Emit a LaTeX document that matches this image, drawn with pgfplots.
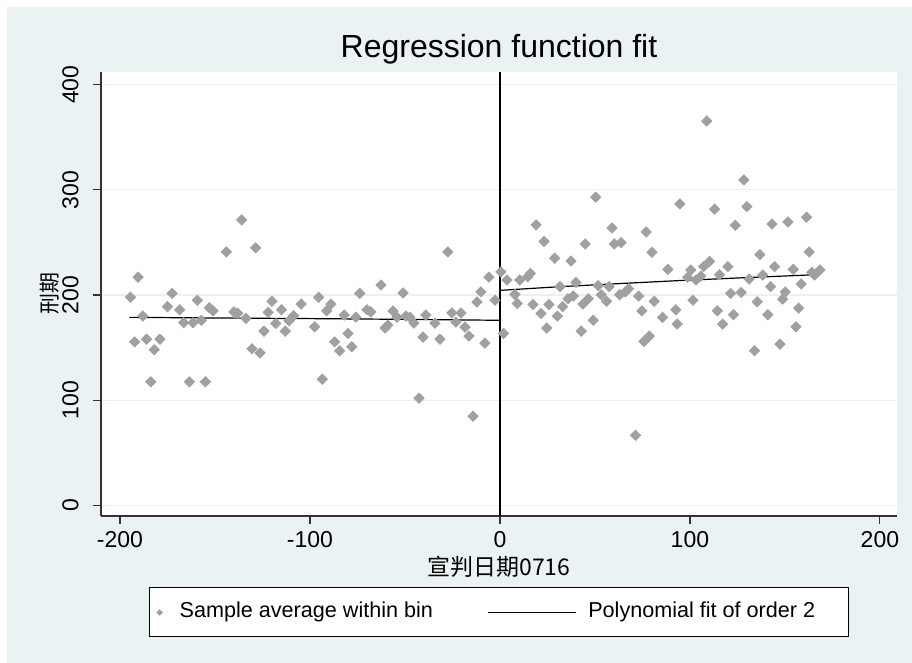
\documentclass[border=0pt]{standalone}
\usepackage{fontspec}
\setmainfont{Liberation Sans}
\newfontfamily\cjk{Noto Sans CJK SC}
\usepackage{pgfplots}
\pgfplotsset{compat=1.18}
\usepackage{pgfplotstable}

\definecolor{bgblue}{RGB}{234,242,243}
\definecolor{mkgray}{RGB}{160,160,160}
\definecolor{gridc}{RGB}{236,240,241}

\pgfplotsset{
    binleg/.style={legend image code/.code={\path[draw=none] (0pt,0pt) -- (13pt,0pt);
        \draw[##1, mark size=0.9pt] plot coordinates {(5pt,0pt)};}},
    fitleg/.style={legend image code/.code={\path[draw=none] (0pt,0pt) -- (48pt,0pt);
        \draw[##1] (0pt,0pt) -- (44pt,0pt);}},
}

% binned means, left of cutoff
\pgfplotstableread{
x y
-194.5 198
-192.3 155.5
-190.5 217
-188 180
-186 158
-183.8 117.5
-182 148
-179 158
-175 189
-172.6 201.6
-168.6 186
-166.5 173.7
-163.5 117.5
-161.6 173.7
-159.3 195
-157.2 176
-155 117.5
-153 188
-151 185
-144 241
-140 184
-138 182.6
-136 271.4
-133.7 177.8
-130.5 149
-128.6 244.8
-126.3 145
-124.2 165.7
-122 183.5
-120 194
-118 173
-115 186
-113 165.7
-111 175.5
-108.6 180.3
-104.6 191.4
-97.5 169.8
-95.4 197.8
-93.5 120
-91.2 185
-89 191.4
-87 155.5
-84.4 147
-82 181
-80 163.5
-78 150.8
-75.8 179
-73.8 201.6
-70 186
-68 184
-62.6 209.5
-60.5 168.6
-59 171.4
-56.3 184.8
-54.2 179
-51 202
-49.5 180
-47.4 179
-45.3 173.3
-42.6 102
-40.5 160
-39 181
-34.2 173.3
-31.6 158
-27.4 241
-25.3 183
-23.2 174.3
-20.5 183
-18.4 169.5
-16.3 161
-14.2 84.8
-12.1 193.3
-10 203
-7.9 154.3
-5.8 217
-2.6 195
}\leftbins

% binned means, right of cutoff
\pgfplotstableread{
x y
0.5 222
1.9 163.5
3.7 214.3
7.9 200.6
9.1 192
10.4 214.3
14.6 217.4
16 220.6
17.4 191
19 266.7
21.6 182.5
23.2 251
24.6 168.6
25.8 191
28.8 235
30.2 180
31.6 208
33 189
35.8 196.5
37.4 232.4
38.6 199
40 212
42.8 165.7
43.7 191.4
44.9 248.6
46.5 196.5
49.1 176
50.4 293
51.7 209
53.3 200.3
56.1 194
57.5 208
59 263.8
60.2 248.6
63 200.3
63.8 249.8
66 203
67.7 206
71.4 66.7
73 199
74.7 185
75.8 155.9
77 260
78.6 161
80 240.6
81.2 194
85.6 178.7
88.4 224.4
92.6 186
93.3 172.4
94.7 286.7
98.8 216.8
100.4 223.8
101.6 195
103.2 214.3
105.8 218
107.2 227
108.8 365.4
110.4 232
113 281.6
114.4 185
115.6 219.3
117.2 172.4
120 227
121.4 201.6
123 181.3
123.9 266.3
127 202.5
128.4 309.5
130 284
131.2 215.2
134 147
135.4 193.6
136.8 238.4
138.3 219
141 181.3
142.5 208
143.2 267.6
144.6 227
147.4 153.3
148.8 196.2
150.2 202.9
151.6 269.5
154.4 224.4
155.8 169.8
157.2 187.6
158.6 210.5
161.4 274
162.8 241
164.2 221.6
165.6 219
168.4 223.8
}\rightbins

\begin{document}
\begin{tikzpicture}
\fill[white] (0,0) rectangle (456pt,331.5pt);
\fill[bgblue] (3.5pt,0) rectangle (456pt,328pt);
\path[use as bounding box] (0,0) rectangle (456pt,331.5pt);
\begin{axis}[
    at={(50.5pt,73.5pt)}, anchor=south west,
    scale only axis,
    width=398pt, height=222pt,
    xmin=-210, xmax=209,
    ymin=-10, ymax=412,
    xtick={-200,-100,0,100,200},
    ytick={0,100,200,300,400},
    axis x line*=bottom, axis y line*=left,
    axis line style={black!80, line width=0.6pt, -},
    tick align=outside,
    major tick length=3.8pt,
    tick style={black!80, line width=0.6pt},
    ymajorgrids,
    major grid style={gridc, line width=0.6pt},
    axis background/.style={fill=white},
    /pgf/number format/assume math mode=true,
    tick label style={font=\fontsize{11.5}{13}\selectfont},
    xticklabel style={anchor=base, yshift=-12pt},
    yticklabel style={anchor=base, xshift=-7.5pt, rotate=90},
    title={Regression function fit},
    title style={font=\fontsize{16}{19}\selectfont, at={(axis description cs:0.5,1.0045)}, anchor=base},
    xlabel={\cjk 宣判日期0716},
    xlabel style={font=\fontsize{11.5}{13}\selectfont, at={(axis description cs:0.5,-0.135)}, anchor=base},
    ylabel={\cjk 刑期},
    ylabel style={font=\fontsize{10.5}{12}\selectfont, at={(axis description cs:-0.064,0.5)}, anchor=center},
    legend columns=2,
    legend style={at={(axis description cs:0.5,-0.2173)}, anchor=center,
        draw=black, line width=0.5pt, fill=white, inner xsep=0pt, inner ysep=5pt,
        font=\fontsize{10.8}{13}\selectfont,
        nodes={inner sep=2pt, text height=8pt, text depth=2.5pt}},
]
\addplot[only marks, mark=square*, mark size=1.8pt,
    mark options={rotate=45, fill=mkgray, draw=mkgray}, binleg]
    table[x=x, y=y] {\leftbins};
\addlegendentry{\makebox[152pt][l]{Sample average within bin}}
\addplot[only marks, mark=square*, mark size=1.8pt,
    mark options={rotate=45, fill=mkgray, draw=mkgray}, forget plot]
    table[x=x, y=y] {\rightbins};
% polynomial fits
\addplot[black, line width=0.6pt, mark=none, fitleg]
    coordinates {(-195,178.8) (-150,178.2) (-100,177.6) (-50,176.9) (0,176)};
\addlegendentry{\makebox[128pt][l]{Polynomial fit of order 2}}
\addplot[black, line width=0.6pt, mark=none, forget plot]
    coordinates {(0.5,204.5) (32,208) (64,211) (95,213.8) (125,216.2) (168.4,219.5)};
% cutoff
\addplot[black, line width=0.6pt, mark=none, forget plot]
    coordinates {(0,-10) (0,412)};
\end{axis}
\end{tikzpicture}
\end{document}
